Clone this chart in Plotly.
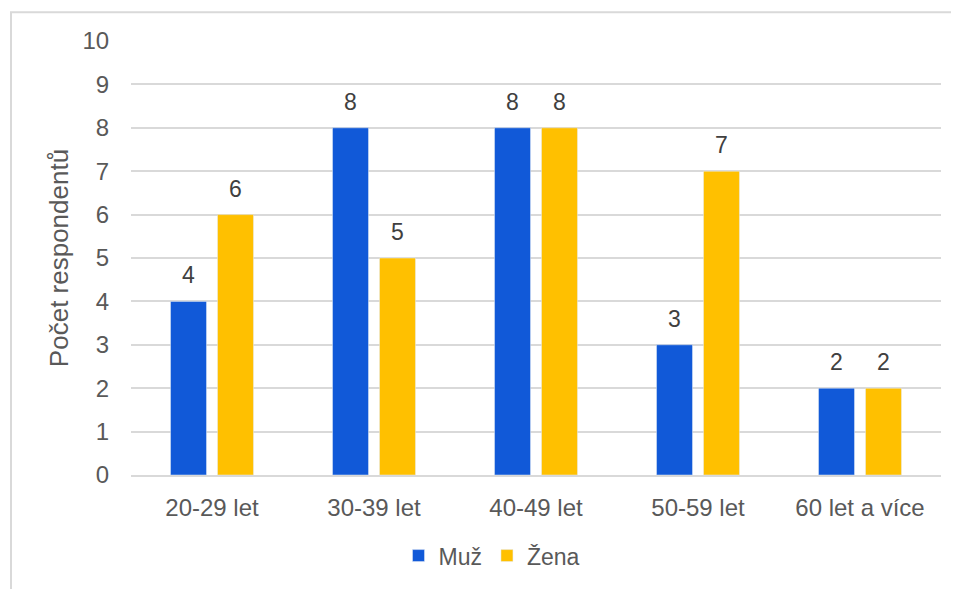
import plotly.graph_objects as go

categories = ["20-29 let", "30-39 let", "40-49 let", "50-59 let", "60 let a více"]
muz = [4, 8, 8, 3, 2]
zena = [6, 5, 8, 7, 2]
series_names = ["Muž", "Žena"]
y_ticks = list(range(0, 11))

# page body has an 8px margin, so the figure is sized to fit the window
OFF = 8
W, H = 959 - OFF, 589 - OFF
L, R, T, B = 123, 18, 33, 112
pw, ph = W - L - R, H - T - B

font = "Liberation Sans, Arial, sans-serif"
txt = "#595959"
fig = go.Figure()
fig.add_trace(go.Bar(x=categories, y=muz, name=series_names[0], marker_color="#1159d8"))
fig.add_trace(go.Bar(x=categories, y=zena, name=series_names[1], marker_color="#ffc000"))

for vals, shift in ((muz, -23.5), (zena, 23.5)):
    for c, v in zip(categories, vals):
        fig.add_annotation(x=c, y=v, text=str(v), showarrow=False, xshift=shift,
                           yanchor="bottom", yshift=11,
                           font=dict(size=23, color="#404040", family=font))

def px(x):
    return (x - OFF - L) / pw

def py(y):
    return (H + OFF - B - y) / ph

fig.add_shape(type="rect", xref="paper", yref="paper",
              x0=px(11), x1=px(957), y0=py(640), y1=py(12),
              line=dict(color="#d9d9d9", width=2), layer="below")

fig.update_layout(
    width=W, height=H, margin=dict(l=L, r=R, t=T, b=B),
    paper_bgcolor="white", plot_bgcolor="white",
    barmode="group", bargap=0.42, bargroupgap=0.234,
    font=dict(family=font, color=txt, size=23),
    showlegend=True,
    legend=dict(orientation="h", x=px(492), xanchor="center", y=py(558), yanchor="middle",
                font=dict(size=23, color=txt), traceorder="normal"),
    xaxis=dict(showgrid=False, showline=True, linecolor="#d9d9d9", linewidth=2,
               ticks="outside", ticklen=10, tickcolor="rgba(0,0,0,0)",
               tickfont=dict(size=24, color=txt)),
    yaxis=dict(range=[0, 10], tickvals=y_ticks, showgrid=True, gridcolor="#d9d9d9", gridwidth=1.5,
               zeroline=False, showline=False, ticks="outside", ticklen=16, tickcolor="rgba(0,0,0,0)",
               tickfont=dict(size=24, color=txt),
               title=dict(text="Počet respondentů", font=dict(size=26, color=txt), standoff=6)),
)

fig.write_html("out.html")
